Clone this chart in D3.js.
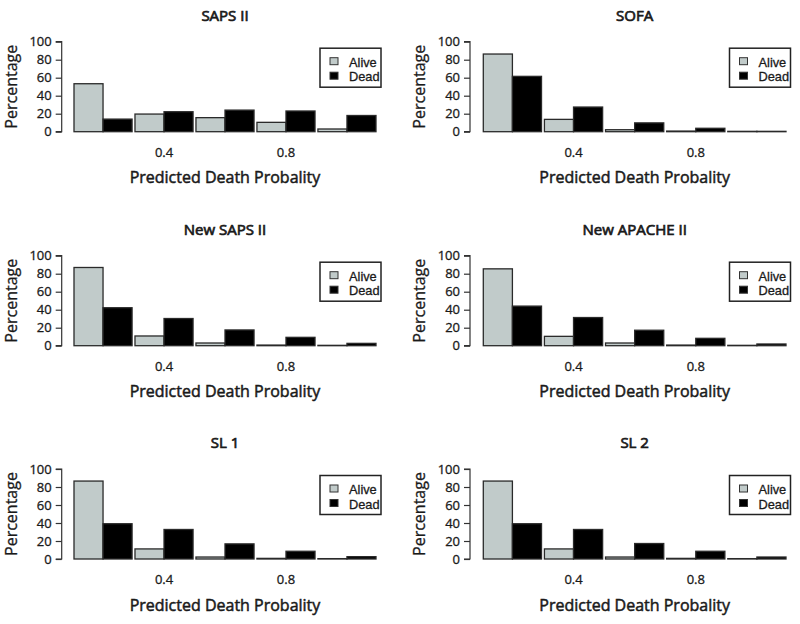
<!DOCTYPE html>
<html>
<head>
<meta charset="utf-8">
<script src="https://cdn.jsdelivr.net/npm/d3@7"></script>
<style>
  html, body { margin: 0; padding: 0; background: #fff; }
  svg { display: block; }
  text { font-family: "Open Sans", "DejaVu Sans", sans-serif; fill: #1a1a1a; stroke: #1a1a1a; stroke-width: 0.3px; }
  text.leg { font-family: "Liberation Sans", Arial, sans-serif; }
</style>
</head>
<body>
<svg id="chart" width="800" height="624"></svg>
<script>
// ---- data ----
const titles = ["SAPS II", "SOFA", "New SAPS II", "New APACHE II", "SL 1", "SL 2"];
const bins = [0.2, 0.4, 0.6, 0.8, 1.0];
const series = ["Alive", "Dead"];
const xTickValues = [0.4, 0.8];
const xTickLabels = ["0.4", "0.8"];
const yTicks = [0, 20, 40, 60, 80, 100];

const sapsAlive        = [53.3, 19.6, 15.6, 10.4, 3.0];
const sapsDead         = [14.0, 22.2, 24.0, 23.0, 18.0];
const sofaAlive        = [86.3, 13.7, 2.2, 0.7, 0.4];
const sofaDead         = [61.5, 27.4, 9.8, 3.8, 0.4];
const newSapsAlive     = [86.9, 10.8, 3.0, 0.7, 0.4];
const newSapsDead      = [42.2, 30.2, 17.5, 9.3, 2.6];
const newApacheAlive   = [85.4, 10.4, 3.0, 0.7, 0.4];
const newApacheDead    = [44.0, 31.3, 17.2, 8.2, 1.9];
const sl1Alive         = [86.6, 11.2, 2.2, 0.7, 0.4];
const sl1Dead          = [39.2, 32.8, 16.8, 8.6, 2.6];
const sl2Alive         = [86.6, 11.2, 2.2, 0.7, 0.4];
const sl2Dead          = [39.2, 32.8, 17.2, 8.6, 2.2];

const aliveSets = [sapsAlive, sofaAlive, newSapsAlive, newApacheAlive, sl1Alive, sl2Alive];
const deadSets  = [sapsDead, sofaDead, newSapsDead, newApacheDead, sl1Dead, sl2Dead];

// ---- layout ----
const colAxisX   = [61.7, 470];
const colBarsL   = [74, 483.3];
const colBarsR   = [376, 786];
const colLegendL = [320, 729.5];
const rowTop     = [41.7, 255.7, 469];
const plotH      = 90;
const colors = { Alive: "#c1cbca", Dead: "#000000" };

const svg = d3.select("#chart");

titles.forEach((title, i) => {
  const col = i % 2, row = Math.floor(i / 2);
  const top = rowTop[row], bottom = top + plotH;
  const g = svg.append("g");

  const y = d3.scaleLinear().domain([0, 100]).range([bottom, top]);
  const xg = d3.scaleBand().domain(bins).range([colBarsL[col], colBarsR[col]])
    .paddingInner(0.1 / 2.1).paddingOuter(0);
  const xs = d3.scaleBand().domain(series).range([0, xg.bandwidth()]);
  const centerFirst = xg(bins[0]) + xg.bandwidth() / 2;
  const centerLast = xg(bins[bins.length - 1]) + xg.bandwidth() / 2;
  const xv = d3.scaleLinear().domain([bins[0], bins[bins.length - 1]]).range([centerFirst, centerLast]);

  const data = [];
  bins.forEach((b, k) => {
    data.push({ bin: b, s: "Alive", v: aliveSets[i][k] });
    data.push({ bin: b, s: "Dead", v: deadSets[i][k] });
  });

  g.selectAll("rect.bar").data(data).join("rect")
    .attr("class", "bar")
    .attr("x", d => xg(d.bin) + xs(d.s))
    .attr("y", d => y(d.v))
    .attr("width", xs.bandwidth())
    .attr("height", d => y(0) - y(d.v))
    .attr("fill", d => colors[d.s])
    .attr("stroke", "#2a2a2a")
    .attr("stroke-width", 1.3);

  // y axis
  const yAxis = d3.axisLeft(y).tickValues(yTicks).tickSize(6).tickPadding(4);
  const ya = g.append("g").attr("transform", `translate(${colAxisX[col]},0)`).call(yAxis);
  ya.select(".domain").attr("stroke", "#333").attr("stroke-width", 1.2).attr("d", `M-6,${y(0)}H0V${y(100)}H-6`);
  ya.selectAll(".tick line").attr("stroke", "#333").attr("stroke-width", 1.2);
  ya.selectAll(".tick text").style("font-size", "13px").attr("fill", "#1a1a1a");

  // x tick labels (no axis line, as in the reference)
  g.selectAll("text.xt").data(xTickValues).join("text")
    .attr("class", "xt")
    .attr("x", d => xv(d))
    .attr("y", bottom + 25)
    .attr("text-anchor", "middle")
    .style("font-size", "13px")
    .text((d, k) => xTickLabels[k]);

  // title
  const cx = (colBarsL[col] + colBarsR[col]) / 2;
  g.append("text").attr("x", cx).attr("y", top - 21)
    .attr("text-anchor", "middle").style("font-size", "15px").style("stroke-width", "0.7px")
    .text(title);

  // x label
  g.append("text").attr("x", cx).attr("y", bottom + 51.5)
    .attr("text-anchor", "middle").style("font-size", "16px").style("stroke-width", "0.5px")
    .text("Predicted Death Probality");

  // y label
  g.append("text")
    .attr("transform", `translate(${colAxisX[col] - 45},${(top + bottom) / 2}) rotate(-90)`)
    .attr("text-anchor", "middle").style("font-size", "16px")
    .text("Percentage");

  // legend
  const lx = colLegendL[col], ly = top + 6.5;
  const leg = g.append("g").attr("transform", `translate(${lx},${ly})`);
  leg.append("rect").attr("x", 0).attr("y", 0).attr("width", 61).attr("height", 39)
    .attr("fill", "#fff").attr("stroke", "#222").attr("stroke-width", 1.5);
  series.forEach((s, k) => {
    leg.append("rect").attr("x", 10).attr("y", 9.5 + k * 14.5).attr("width", 8).attr("height", 7)
      .attr("fill", colors[s]).attr("stroke", "#333").attr("stroke-width", 1);
    leg.append("text").attr("class", "leg").attr("x", 29).attr("y", 18.5 + k * 14.5)
      .style("font-size", "12.8px").text(s);
  });
});
</script>
</body>
</html>
